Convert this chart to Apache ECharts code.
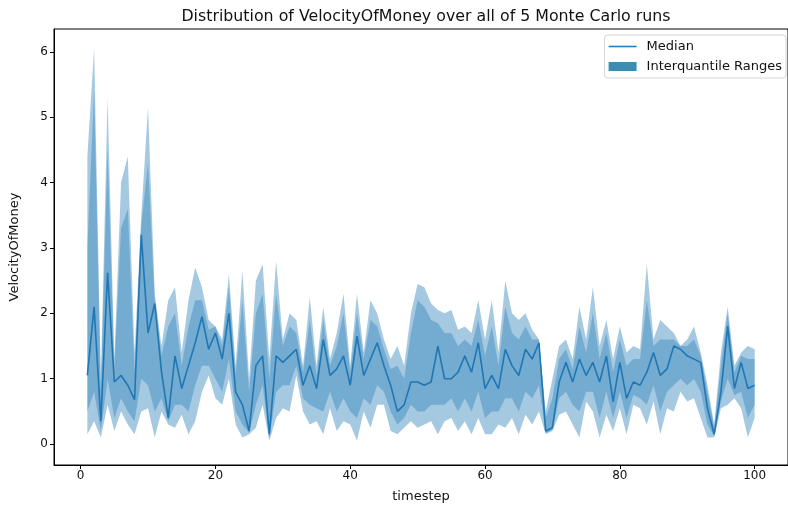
<!DOCTYPE html>
<html>
<head>
<meta charset="utf-8">
<script src="https://cdn.jsdelivr.net/npm/echarts@6/dist/echarts.min.js"></script>
<style>html,body{margin:0;padding:0;background:#fff}#c{width:788px;height:508px}</style>
</head>
<body>
<div id="c"></div>
<script>
// ---- data ----
const timesteps = Array.from({length: 100}, (_, i) => i + 1);
const median = [1.05,2.1,0.35,2.62,0.95,1.05,0.9,0.68,3.2,1.7,2.15,1.1,0.4,1.35,0.85,1.2,1.55,1.95,1.45,1.7,1.3,2.0,0.8,0.6,0.2,1.2,1.35,0.15,1.35,1.25,1.35,1.45,0.9,1.2,0.85,1.6,1.05,1.15,1.35,0.9,1.65,1.05,1.3,1.55,1.2,0.9,0.5,0.6,0.95,0.95,0.9,0.95,1.5,1.0,1.0,1.1,1.35,1.1,1.55,0.85,1.05,0.85,1.45,1.2,1.05,1.45,1.3,1.55,0.2,0.25,0.95,1.25,0.95,1.3,1.05,1.25,0.95,1.35,0.65,1.25,0.7,0.95,0.9,1.1,1.4,1.05,1.15,1.5,1.45,1.35,1.3,1.25,0.55,0.15,0.8,1.8,0.85,1.25,0.85,0.9];
const qMax = [4.4,6.05,1.0,5.3,1.3,4.0,4.4,1.4,3.5,5.15,2.3,1.5,2.2,2.4,1.4,2.2,2.7,2.4,1.9,1.8,1.6,2.6,1.2,2.65,1.0,2.5,2.75,1.3,2.8,1.6,2.0,1.9,1.2,2.25,1.2,2.1,1.3,1.7,2.3,1.2,2.3,1.4,2.2,2.0,1.6,1.3,1.5,1.2,2.0,2.45,2.4,2.15,2.05,2.0,2.05,1.75,1.8,1.7,2.2,1.6,2.2,1.4,2.5,2.0,1.9,2.0,1.75,1.6,0.5,1.0,1.5,1.6,1.3,2.1,1.6,2.4,1.5,1.9,1.3,1.8,1.4,1.5,1.45,2.75,1.6,1.9,1.8,1.7,1.5,1.6,1.8,1.4,0.9,0.3,1.4,2.1,1.2,1.4,1.5,1.45];
const qMin = [0.15,0.35,0.1,0.6,0.2,0.5,0.3,0.15,0.5,0.55,0.1,0.5,0.3,0.25,0.45,0.15,0.35,0.8,1.05,0.7,0.6,1.0,0.3,0.1,0.15,0.25,0.6,0.05,0.4,0.55,0.5,1.05,0.5,0.3,0.35,0.15,0.55,0.2,0.35,0.3,0.05,0.5,0.25,0.6,0.6,0.2,0.15,0.25,0.35,0.25,0.3,0.35,0.15,0.35,0.4,0.2,0.35,0.15,0.4,0.15,0.15,0.3,0.25,0.4,0.15,0.45,0.3,0.5,0.15,0.2,0.45,0.5,0.3,0.1,0.65,0.5,0.1,0.45,0.2,0.55,0.15,0.6,0.55,0.3,0.65,0.15,0.55,0.5,0.8,0.65,0.7,0.4,0.1,0.1,0.55,0.6,0.7,0.55,0.1,0.4];
const q75 = [3.0,5.4,0.8,4.5,1.15,3.3,3.6,1.1,3.35,4.3,2.2,1.35,1.8,2.0,1.2,1.8,2.2,2.2,1.75,1.8,1.5,2.4,1.05,2.2,0.8,2.0,2.3,1.0,2.3,1.5,1.8,1.7,1.1,1.9,1.05,1.9,1.2,1.5,2.0,1.1,2.0,1.3,1.9,1.8,1.45,1.15,1.2,1.0,1.7,2.2,2.1,1.9,1.85,1.7,1.7,1.5,1.6,1.5,1.9,1.35,1.8,1.2,2.1,1.7,1.6,1.8,1.6,1.6,0.4,0.7,1.3,1.45,1.15,1.8,1.4,2.0,1.3,1.7,1.1,1.6,1.2,1.3,1.3,2.2,1.5,1.6,1.6,1.6,1.5,1.5,1.6,1.35,0.8,0.25,1.2,2.0,1.1,1.35,1.3,1.3];
const q25 = [0.5,0.8,0.2,1.0,0.4,0.7,0.5,0.35,1.0,0.9,0.5,0.7,0.35,0.6,0.6,0.5,0.9,1.2,1.2,1.0,0.8,1.3,0.5,0.3,0.17,0.6,0.9,0.08,0.8,0.9,0.9,1.2,0.7,0.6,0.55,0.5,0.8,0.5,0.7,0.5,0.4,0.7,0.6,0.9,0.8,0.5,0.3,0.4,0.6,0.5,0.5,0.6,0.6,0.6,0.7,0.5,0.7,0.5,0.8,0.4,0.5,0.5,0.7,0.7,0.5,0.8,0.7,0.9,0.17,0.22,0.7,0.8,0.6,0.5,0.8,0.8,0.4,0.8,0.4,0.8,0.4,0.75,0.7,0.6,0.9,0.5,0.8,0.9,1.0,0.9,1.0,0.8,0.3,0.12,0.65,1.0,0.75,0.8,0.4,0.6];
const xTicks = [0, 20, 40, 60, 80, 100];
const yTicks = [0, 1, 2, 3, 4, 5, 6];

const FONT = 'DejaVu Sans';

function band(name, lo, hi, color, z) {
  return {
    type: 'custom', name: name, z: z, silent: true,
    data: timesteps.map((t, i) => [t, lo[i], hi[i]]),
    encode: {x: 0, y: [1, 2]},
    itemStyle: {color: color},
    renderItem: function (params, api) {
      if (params.dataIndex !== 0) return null;
      const pts = [];
      for (let i = 0; i < timesteps.length; i++) pts.push(api.coord([timesteps[i], hi[i]]));
      for (let i = timesteps.length - 1; i >= 0; i--) pts.push(api.coord([timesteps[i], lo[i]]));
      return {type: 'polygon', shape: {points: pts}, style: {fill: color, stroke: null}};
    }
  };
}

const chart = echarts.init(document.getElementById('c'), null, {renderer: 'canvas'});
chart.setOption({
  animation: false,
  backgroundColor: '#fff',
  title: {
    text: 'Distribution of VelocityOfMoney over all of 5 Monte Carlo runs',
    left: 421, top: 4, textAlign: 'center',
    textStyle: {fontFamily: FONT, fontSize: 15.8, fontWeight: 'normal', color: '#111'}
  },
  legend: {
    orient: 'vertical', right: 2, top: 35,
    backgroundColor: '#fff', borderColor: '#d4d4d4', borderWidth: 1, borderRadius: 3,
    padding: [5, 4, 5, 4], itemGap: 7, itemWidth: 28, itemHeight: 9,
    symbolKeepAspect: true,
    textStyle: {fontFamily: FONT, fontSize: 13, color: '#111', padding: [0, 0, 0, 5]},
    data: [
      {name: 'Median', icon: 'path://M0,0 L28,0 L28,1.6 L0,1.6 Z', itemStyle: {color: '#2a7db8'}},
      {name: 'Interquantile Ranges', icon: 'rect', itemStyle: {color: '#3c8cb4'}}
    ]
  },
  grid: {left: 51, top: 29, right: -4, bottom: 43, show: true, borderColor: '#000', borderWidth: 1, backgroundColor: 'transparent'},
  xAxis: {
    type: 'value', min: -3.95, max: 104.95,
    name: 'timestep', nameLocation: 'middle', nameGap: 25,
    nameTextStyle: {fontFamily: FONT, fontSize: 13, color: '#111'},
    axisLine: {show: true, onZero: false, lineStyle: {color: '#000'}},
    axisTick: {show: true, length: 4, customValues: xTicks, lineStyle: {color: '#000'}},
    axisLabel: {customValues: xTicks, fontFamily: FONT, fontSize: 12, color: '#111', margin: 5},
    splitLine: {show: false}
  },
  yAxis: {
    type: 'value', min: -0.32, max: 6.35,
    name: 'VelocityOfMoney', nameLocation: 'middle', nameGap: 33,
    nameTextStyle: {fontFamily: FONT, fontSize: 13, color: '#111'},
    axisLine: {show: true, onZero: false, lineStyle: {color: '#000'}},
    axisTick: {show: true, length: 4, customValues: yTicks, lineStyle: {color: '#000'}},
    axisLabel: {customValues: yTicks, fontFamily: FONT, fontSize: 12, color: '#111', margin: 6},
    splitLine: {show: false}
  },
  series: [
    band('Interquantile Ranges', qMin, qMax, 'rgba(31,119,180,0.4)', 1),
    band('Inner range', q25, q75, 'rgba(31,119,180,0.36)', 2),
    {
      type: 'line', name: 'Median', z: 5,
      data: timesteps.map((t, i) => [t, median[i]]),
      symbol: 'none', showSymbol: false,
      lineStyle: {color: '#1f77b4', width: 1.6},
      itemStyle: {color: '#1f77b4'}
    }
  ]
});
</script>
</body>
</html>
